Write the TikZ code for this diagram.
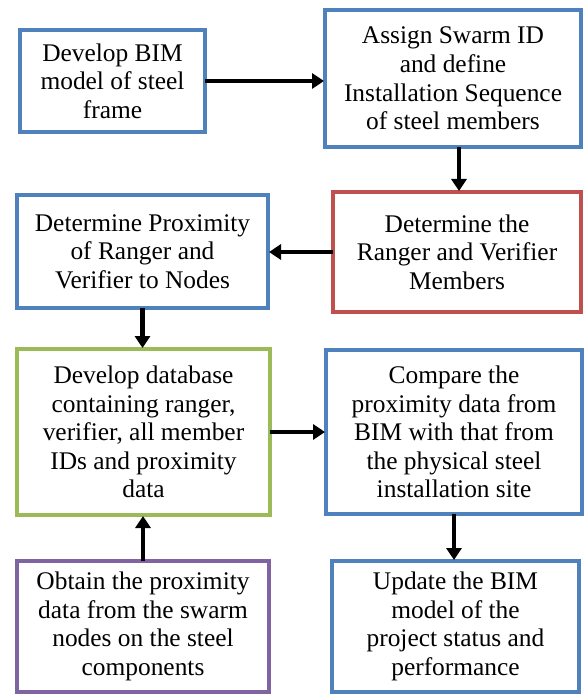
\documentclass[tikz,border=0pt]{standalone}
\usepackage{fontspec}
\newfontfamily\boxfont{Liberation Serif}
\usetikzlibrary{arrows.meta}
\definecolor{obBlue}{RGB}{79,129,189}
\definecolor{obRed}{RGB}{192,80,77}
\definecolor{obGreen}{RGB}{155,187,89}
\definecolor{obPurple}{RGB}{128,100,162}
\tikzset{
  stepbox/.style={draw=obBlue, line width=4bp, fill=white, inner sep=0pt, outer sep=0pt,
    align=center, font=\boxfont\fontsize{25.5}{28.7}\selectfont},
  arr/.style={line width=4.5bp, black, -{Triangle[length=12bp,width=15bp]}, shorten >=1bp}
}
\begin{document}
\begin{tikzpicture}[x=1bp,y=-1bp]
\useasboundingbox (0,0) rectangle (584,696);
\node[stepbox, minimum width=185bp, minimum height=102bp] (b1) at (112.5,81) {Develop BIM\\model of steel\\frame};
\node[stepbox, minimum width=256bp, minimum height=137bp] (b2) at (453,78.5) {Assign Swarm ID\\and define\\Installation Sequence\\of steel members};
\node[stepbox, minimum width=251bp, minimum height=113bp] (b3) at (142.5,251.5) {Determine Proximity\\of Ranger and\\Verifier to Nodes};
\node[stepbox, draw=obRed, minimum width=248bp, minimum height=120bp] (b4) at (457,252) {Determine the\\Ranger and Verifier\\Members};
\node[stepbox, draw=obGreen, minimum width=253bp, minimum height=166bp] (g) at (143.5,432) {Develop database\\containing ranger,\\verifier, all member\\IDs and proximity\\data};
\node[stepbox, minimum width=256bp, minimum height=164bp] (c) at (454,432) {Compare the\\proximity data from\\BIM with that from\\the physical steel\\installation site};
\node[stepbox, draw=obPurple, minimum width=252bp, minimum height=131bp] (p) at (143,626.5) {Obtain the proximity\\data from the swarm\\nodes on the steel\\components};
\node[stepbox, minimum width=247bp, minimum height=131bp] (u) at (455.5,626.5) {Update the BIM\\model of the\\project status and\\performance};
\draw[arr] (b1.east) -- (b1.east -| b2.west);
\draw[arr] ([xshift=6bp]b2.south) -- ([xshift=6bp]b2.south |- b4.north);
\draw[arr] (b4.west) -- (b4.west -| b3.east);
\draw[arr] (b3.south) -- (b3.south |- g.north);
\draw[arr] (p.north) -- (p.north |- g.south);
\draw[arr] (g.east) -- (g.east -| c.west);
\draw[arr] (c.south) -- (c.south |- u.north);
\end{tikzpicture}
\end{document}
